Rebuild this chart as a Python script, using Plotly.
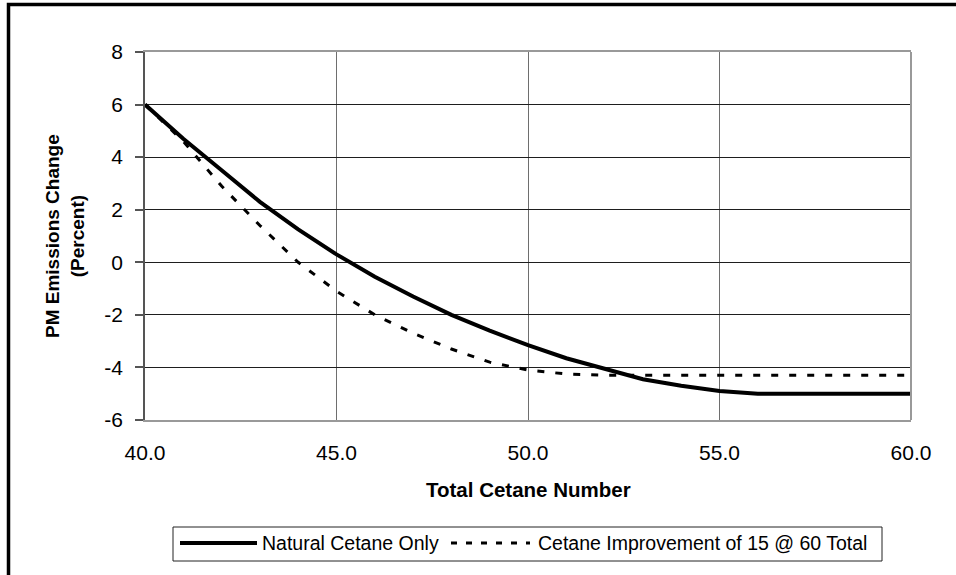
import plotly.graph_objects as go

# Total cetane number (x) and PM emissions change in percent for each case
cetane = [40, 41, 42, 43, 44, 45, 46, 47, 48, 49, 50,
          51, 52, 53, 54, 55, 56, 57, 58, 59, 60]
natural_only = [6.0, 4.7, 3.5, 2.3, 1.25, 0.3, -0.55, -1.3, -2.0, -2.6, -3.15,
                -3.65, -4.05, -4.45, -4.7, -4.9, -5.0, -5.0, -5.0, -5.0, -5.0]
improved_15 = [6.0, 4.6, 2.9, 1.4, 0.0, -1.1, -2.0, -2.7, -3.3, -3.8, -4.1,
               -4.25, -4.3, -4.3, -4.3, -4.3, -4.3, -4.3, -4.3, -4.3, -4.3]

series_names = ["Natural Cetane Only", "Cetane Improvement of 15 @ 60 Total"]
x_ticks = [40, 45, 50, 55, 60]
y_ticks = [-6, -4, -2, 0, 2, 4, 6, 8]

W, H = 956, 575
L, R, T, B = 145, 45, 52, 155
PW, PH = W - L - R, H - T - B


def px(xpix):
    return (xpix - L) / PW


def py(ypix):
    return (H - B - ypix) / PH


FONT = "Liberation Sans, Arial, sans-serif"

fig = go.Figure()
fig.add_trace(go.Scatter(x=cetane, y=natural_only, mode="lines",
                         name=series_names[0],
                         line=dict(color="black", width=4)))
fig.add_trace(go.Scatter(x=cetane, y=improved_15, mode="lines",
                         name=series_names[1],
                         line=dict(color="black", width=3, dash="7px,11px")))

fig.update_layout(
    width=W, height=H,
    margin=dict(l=L, r=R, t=T, b=B, pad=0),
    paper_bgcolor="white", plot_bgcolor="white",
    showlegend=False,
    font=dict(family=FONT, color="black"),
)

fig.update_xaxes(
    range=[40, 60], tickvals=x_ticks, ticktext=[f"{v:.1f}" for v in x_ticks],
    showgrid=True, gridcolor="#6e6e6e", gridwidth=1,
    showline=True, linecolor="#999999", linewidth=1.5, mirror=True,
    ticks="", ticklabelstandoff=13,
    tickfont=dict(size=21, family=FONT, color="black"),
    zeroline=False,
)
fig.update_yaxes(
    range=[-6, 8], tickvals=y_ticks, ticktext=[str(v) for v in y_ticks],
    showgrid=True, gridcolor="#1e1e1e", gridwidth=1,
    showline=True, linecolor="#555555", linewidth=1.5,
    ticks="outside", ticklen=8, tickcolor="#555555", tickwidth=1.5,
    ticklabelstandoff=8,
    tickfont=dict(size=21, family=FONT, color="black"),
    zeroline=False,
)

shapes = []
# right edge of the plot area
shapes.append(dict(type="line", xref="paper", yref="paper", x0=1, x1=1, y0=0, y1=1,
                   line=dict(color="#999999", width=2)))
# outer chart frame
shapes.append(dict(type="rect", xref="paper", yref="paper",
                   x0=px(8.5), x1=px(970), y0=py(590), y1=py(4.5),
                   line=dict(color="black", width=3.5)))
# legend box and samples
shapes.append(dict(type="rect", xref="paper", yref="paper",
                   x0=px(173), x1=px(882), y0=py(561), y1=py(527),
                   line=dict(color="#222222", width=1), fillcolor="white"))
shapes.append(dict(type="line", xref="paper", yref="paper",
                   x0=px(180), x1=px(257), y0=py(543), y1=py(543),
                   line=dict(color="black", width=4)))
shapes.append(dict(type="line", xref="paper", yref="paper",
                   x0=px(451), x1=px(530), y0=py(543), y1=py(543),
                   line=dict(color="black", width=3, dash="6px,9px")))

annotations = [
    dict(text=series_names[0], xref="paper", yref="paper", x=px(260), y=py(543),
         xanchor="left", yanchor="middle", showarrow=False,
         font=dict(size=19.5, family=FONT, color="black")),
    dict(text=series_names[1], xref="paper", yref="paper", x=px(536), y=py(543),
         xanchor="left", yanchor="middle", showarrow=False,
         font=dict(size=19.5, family=FONT, color="black")),
    dict(text="<b>Total Cetane Number</b>", xref="paper", yref="paper",
         x=0.5, y=py(489), xanchor="center", yanchor="middle", showarrow=False,
         font=dict(size=20.5, family=FONT, color="black")),
    dict(text="<b>PM Emissions Change<br>(Percent)</b>", xref="paper", yref="paper",
         x=px(65), y=0.5, xanchor="center", yanchor="middle", showarrow=False,
         textangle=-90, font=dict(size=19, family=FONT, color="black")),
]

fig.update_layout(shapes=shapes, annotations=annotations)
fig.write_html("out.html")
